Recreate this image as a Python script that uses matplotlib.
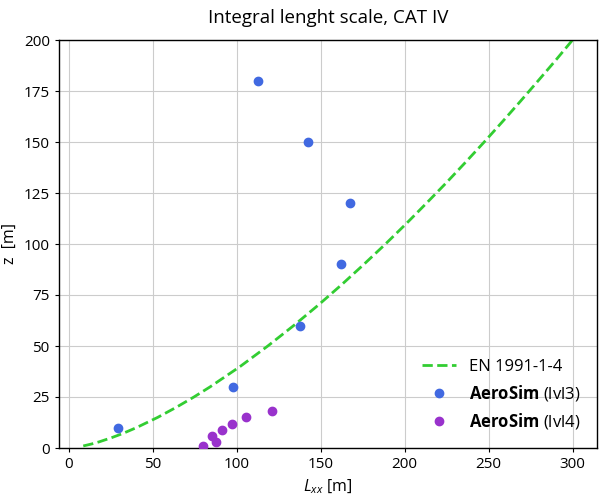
import matplotlib
matplotlib.use("Agg")
import matplotlib.pyplot as plt

plt.rcParams['font.family'] = ['Open Sans', 'DejaVu Sans']
plt.rcParams['mathtext.fontset'] = 'custom'
plt.rcParams['mathtext.rm'] = 'Open Sans'
plt.rcParams['mathtext.it'] = 'Open Sans:italic'
plt.rcParams['mathtext.bf'] = 'Open Sans:bold'

# EN 1991-1-4 curve
z_en = [1, 2, 3, 5, 7, 10, 15, 20, 25, 30, 40, 50, 60, 70, 80, 90, 100,
        110, 120, 130, 140, 150, 160, 170, 180, 190, 200]
L_en = [8.6, 13.7, 18.0, 25.3, 31.8, 40.3, 52.9, 64.1, 74.5, 84.2, 102.1,
        118.5, 133.9, 148.5, 162.4, 175.7, 188.6, 201.0, 213.0, 224.8,
        236.2, 247.4, 258.3, 269.0, 279.5, 289.9, 300.0]

# AeroSim lvl3
z_lvl3 = [10, 30, 60, 90, 120, 150, 180]
L_lvl3 = [29.3, 98.0, 137.5, 162.0, 167.5, 142.5, 112.5]

# AeroSim lvl4
z_lvl4 = [1, 3, 6, 9, 12, 15, 18]
L_lvl4 = [80.0, 87.5, 85.5, 91.0, 97.0, 105.5, 121.0]

fig = plt.figure(figsize=(6, 5), dpi=100)
ax = fig.add_axes([0.098, 0.104, 0.897, 0.816])

ax.plot(L_en, z_en, '--', color='limegreen', lw=2, label='EN 1991-1-4', zorder=2)
ax.plot(L_lvl3, z_lvl3, 'o', color='royalblue', ms=6, label=r'$\bf{AeroSim}$ (lvl3)', zorder=3)
ax.plot(L_lvl4, z_lvl4, 'o', color='darkorchid', ms=6, label=r'$\bf{AeroSim}$ (lvl4)', zorder=3)

ax.set_ylim(0, 200)
ax.grid(True, color='#cccccc', lw=0.8)
ax.set_axisbelow(True)
for s in ax.spines.values():
    s.set_color('black')
    s.set_linewidth(1.0)
ax.tick_params(labelsize=11, length=3, color='black')

ax.set_title('Integral lenght scale, CAT IV', fontsize=13.5, pad=12)
ax.set_xlabel(r'$L_{xx}$ [m]', fontsize=11.5)
ax.set_ylabel('z  [m]', fontsize=11.5)
ax.legend(loc='lower right', frameon=False, fontsize=12, borderaxespad=0.6)

plt.savefig('out.png')
